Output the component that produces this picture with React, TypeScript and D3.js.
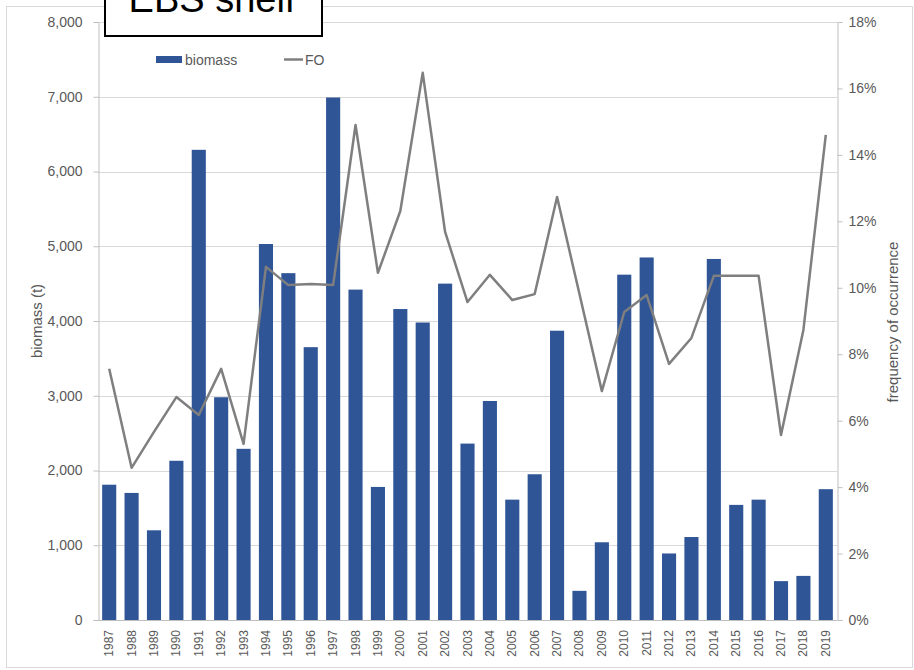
import { useEffect, useRef } from "react"
import * as d3 from "d3"

// years on the x axis
const years = [
  "1987", "1988", "1989", "1990", "1991", "1992", "1993", "1994", "1995", "1996", "1997",
  "1998", "1999", "2000", "2001", "2002", "2003", "2004", "2005", "2006", "2007", "2008",
  "2009", "2010", "2011", "2012", "2013", "2014", "2015", "2016", "2017", "2018", "2019",
]

// biomass (t), left axis
const biomass = [
  1810, 1700, 1200, 2130, 6290, 2980, 2290, 5030, 4640, 3650, 6990,
  4420, 1780, 4160, 3980, 4500, 2360, 2930, 1610, 1950, 3870, 390,
  1040, 4620, 4850, 890, 1110, 4830, 1540, 1610, 520, 590, 1750,
]

// frequency of occurrence (%), right axis
const fo = [
  7.56, 4.58, 5.66, 6.71, 6.17, 7.56, 5.3, 10.63, 10.08, 10.11, 10.08,
  14.9, 10.45, 12.31, 16.47, 11.68, 9.57, 10.39, 9.63, 9.81, 12.73, 9.81,
  6.89, 9.27, 9.78, 7.71, 8.49, 10.36, 10.36, 10.36, 5.57, 8.73, 14.6,
]

const leftTicks = [0, 1000, 2000, 3000, 4000, 5000, 6000, 7000, 8000]
const rightTicks = [0, 2, 4, 6, 8, 10, 12, 14, 16, 18]

export default function App() {
  const svgRef = useRef<SVGSVGElement>(null)

  useEffect(() => {
    if (!svgRef.current) return
    const svg = d3.select(svgRef.current)
    svg.selectAll("*").remove()

    const font = "Liberation Sans, Arial, sans-serif"
    const textColor = "#595959"
    const plot = { left: 98, right: 837, top: 22, bottom: 620 }

    // outer chart frame
    svg.append("rect")
      .attr("x", 6.5)
      .attr("y", 6.5)
      .attr("width", 906)
      .attr("height", 661)
      .attr("fill", "#fff")
      .attr("stroke", "#d9d9d9")

    const x = d3.scaleBand().domain(years).range([plot.left, plot.right]).paddingInner(0.37).paddingOuter(0.185)
    const yL = d3.scaleLinear().domain([0, 8000]).range([plot.bottom, plot.top])
    const yR = d3.scaleLinear().domain([0, 18]).range([plot.bottom, plot.top])

    // gridlines
    svg.append("g")
      .selectAll("line")
      .data(leftTicks)
      .join("line")
      .attr("x1", plot.left)
      .attr("x2", plot.right)
      .attr("y1", (d) => Math.round(yL(d)) + 0.5)
      .attr("y2", (d) => Math.round(yL(d)) + 0.5)
      .attr("stroke", "#d9d9d9")

    // left axis
    const gl = svg.append("g").attr("transform", `translate(${plot.left + 0.5},0)`)
      .call(d3.axisLeft(yL).tickValues(leftTicks).tickFormat(d3.format(",")).tickSize(5).tickPadding(11))
    gl.select(".domain").attr("stroke", "#bfbfbf")
    gl.selectAll(".tick line").attr("stroke", "#bfbfbf")
    gl.selectAll(".tick text").attr("fill", textColor).attr("font-family", font).attr("font-size", 14)

    // right axis
    const gr = svg.append("g").attr("transform", `translate(${plot.right + 0.5},0)`)
      .call(d3.axisRight(yR).tickValues(rightTicks).tickFormat((d) => `${d}%`).tickSize(5).tickPadding(6))
    gr.select(".domain").attr("stroke", "#bfbfbf")
    gr.selectAll(".tick line").attr("stroke", "#bfbfbf")
    gr.selectAll(".tick text").attr("fill", textColor).attr("font-family", font).attr("font-size", 14)

    // bottom axis line
    svg.append("line")
      .attr("x1", plot.left)
      .attr("x2", plot.right)
      .attr("y1", plot.bottom + 0.5)
      .attr("y2", plot.bottom + 0.5)
      .attr("stroke", "#bfbfbf")

    // bars
    svg.append("g")
      .selectAll("rect")
      .data(biomass)
      .join("rect")
      .attr("x", (_, i) => x(years[i])!)
      .attr("y", (d) => yL(d))
      .attr("width", x.bandwidth())
      .attr("height", (d) => plot.bottom - yL(d))
      .attr("fill", "#2f5597")

    // FO line
    const line = d3.line<number>()
      .x((_, i) => x(years[i])! + x.bandwidth() / 2)
      .y((d) => yR(d))
    svg.append("path")
      .datum(fo)
      .attr("d", line)
      .attr("fill", "none")
      .attr("stroke", "#7f7f7f")
      .attr("stroke-width", 2.5)
      .attr("stroke-linejoin", "round")

    // year labels
    svg.append("g")
      .selectAll("text")
      .data(years)
      .join("text")
      .attr("transform", (d) => `translate(${x(d)! + x.bandwidth() / 2 + 4},630) rotate(-90)`)
      .attr("text-anchor", "end")
      .attr("font-family", font)
      .attr("font-size", 12)
      .attr("fill", textColor)
      .text((d) => d)

    // axis titles
    svg.append("text")
      .attr("transform", "translate(42,321) rotate(-90)")
      .attr("text-anchor", "middle")
      .attr("font-family", font)
      .attr("font-size", 15)
      .attr("fill", textColor)
      .text("biomass (t)")

    svg.append("text")
      .attr("transform", "translate(898,322) rotate(-90)")
      .attr("text-anchor", "middle")
      .attr("font-family", font)
      .attr("font-size", 15)
      .attr("fill", textColor)
      .text("frequency of occurrence")

    // legend
    svg.append("rect").attr("x", 156).attr("y", 56).attr("width", 26).attr("height", 7).attr("fill", "#2f5597")
    svg.append("text").attr("x", 185).attr("y", 65).attr("font-family", font).attr("font-size", 14)
      .attr("fill", textColor).text("biomass")
    svg.append("line").attr("x1", 284).attr("x2", 303).attr("y1", 59.5).attr("y2", 59.5)
      .attr("stroke", "#7f7f7f").attr("stroke-width", 2.5)
    svg.append("text").attr("x", 305).attr("y", 65).attr("font-family", font).attr("font-size", 14)
      .attr("fill", textColor).text("FO")

    // title box, cut off at the top edge as in the original
    svg.append("rect")
      .attr("x", 105)
      .attr("y", -10)
      .attr("width", 217)
      .attr("height", 46)
      .attr("fill", "#fff")
      .attr("stroke", "#000")
      .attr("stroke-width", 2)
    svg.append("text")
      .attr("x", 212)
      .attr("y", 12)
      .attr("text-anchor", "middle")
      .attr("font-family", font)
      .attr("font-size", 38)
      .attr("fill", "#000")
      .text("EBS shelf")
  }, [])

  return (
    <svg
      ref={svgRef}
      width={914}
      height={670}
      style={{ position: "absolute", left: 0, top: 0, background: "#fff" }}
    />
  )
}
